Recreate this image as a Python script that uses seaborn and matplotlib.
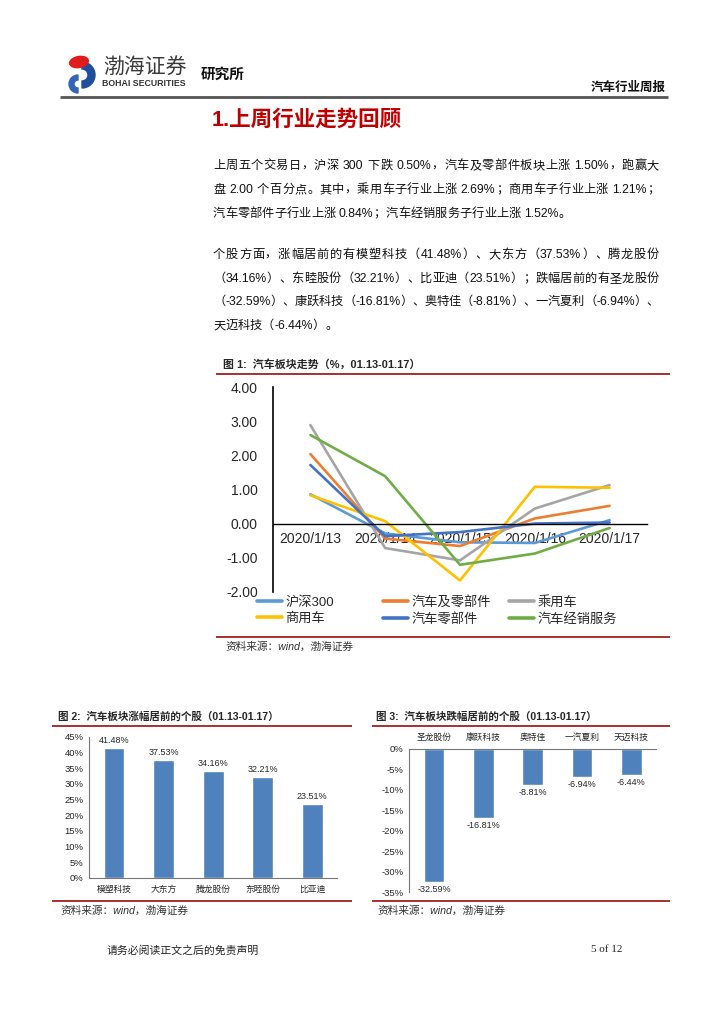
import re
import pandas as pd
import seaborn as sns
import matplotlib.pyplot as plt
from matplotlib.patches import Ellipse, Wedge

dates = ['2020/1/13', '2020/1/14', '2020/1/15', '2020/1/16', '2020/1/17']
series_names = ['沪深300', '汽车及零部件', '乘用车', '商用车', '汽车零部件', '汽车经销服务']
hs300 = [0.86, -0.29, -0.55, -0.57, 0.10]
auto_all = [2.04, -0.44, -0.66, 0.15, 0.52]
passenger = [2.89, -0.72, -1.08, 0.44, 1.13]
commercial = [0.83, 0.07, -1.67, 1.08, 1.05]
parts = [1.72, -0.37, -0.25, 0.00, 0.03]
dealer = [2.60, 1.39, -1.21, -0.88, -0.13]
series_colors = ['#5B9BD5', '#ED7D31', '#A5A5A5', '#FFC000', '#4472C4', '#70AD47']

gain_names = ['模塑科技', '大东方', '腾龙股份', '东睦股份', '比亚迪']
gain_vals = [41.48, 37.53, 34.16, 32.21, 23.51]
loss_names = ['圣龙股份', '康跃科技', '奥特佳', '一汽夏利', '天迈科技']
loss_vals = [-32.59, -16.81, -8.81, -6.94, -6.44]

sns.set_style('white')
plt.rcParams['font.family'] = ['Liberation Sans', 'Noto Sans CJK SC']

W, H = 724, 1024
RED = '#A8302E'
fig = plt.figure(figsize=(7.24, 10.24), dpi=100)

# page layer in pixel coordinates
page = fig.add_axes([0, 0, 1, 1], zorder=0)
page.set_xlim(0, W)
page.set_ylim(H, 0)
page.axis('off')


def ax_at(x0, y0, x1, y1):
    return fig.add_axes([x0 / W, 1 - y1 / H, (x1 - x0) / W, (y1 - y0) / H], zorder=2)


def hline(y, x0, x1, color, lw):
    page.plot([x0, x1], [y, y], color=color, lw=lw, solid_capstyle='butt')


# header / logo
page.add_patch(Wedge((82, 75), 13, -90, 90, width=7, color='#1F4E9E'))
page.add_patch(Wedge((78, 84), 9, 90, 270, width=5, color='#3566B5'))
page.add_patch(Ellipse((79, 62), 19, 11, angle=-10, color='#E21B1B'))
page.text(103, 67, '渤海证券', fontsize=15, color='#3A3A3A', va='center', ha='left')
page.text(102, 83, 'BOHAI SECURITIES', fontsize=6.3, fontweight='bold', color='#333333', va='center', ha='left')
page.text(201, 75, '研究所', fontsize=10.5, fontweight='bold', color='#111111', va='center', ha='left')
page.text(666, 88, '汽车行业周报', fontsize=9, fontweight='bold', color='#111111', va='center', ha='right')
hline(97, 60, 668, '#555555', 2)

page.text(212, 120, '1.上周行业走势回顾', fontsize=15.5, fontweight='bold', color='#C00000', va='center', ha='left')


def para_line(y, s, justify=True, x0=213, x1=659, fs=8.8):
    toks = re.findall(r'[0-9A-Za-z.%\-]+| |.', s)
    arts = [None if t == ' ' else page.text(0, y, t, fontsize=fs, va='center', ha='left', color='#111111')
            for t in toks]
    r = fig.canvas.get_renderer()
    widths = [fs * 0.28 / 0.72 if a is None else a.get_window_extent(r).width for a in arts]
    gap = (x1 - x0 - sum(widths)) / (len(toks) - 1) if justify else 0
    x = x0
    for a, w in zip(arts, widths):
        if a is not None:
            a.set_x(x)
        x += w + gap


para_line(166, '上周五个交易日，沪深 300 下跌 0.50%，汽车及零部件板块上涨 1.50%，跑赢大')
para_line(190, '盘 2.00 个百分点。其中，乘用车子行业上涨 2.69%；商用车子行业上涨 1.21%；')
para_line(214, '汽车零部件子行业上涨 0.84%；汽车经销服务子行业上涨 1.52%。', justify=False)
para_line(255, '个股方面，涨幅居前的有模塑科技（41.48%）、大东方（37.53%）、腾龙股份')
para_line(279, '（34.16%）、东睦股份（32.21%）、比亚迪（23.51%）；跌幅居前的有圣龙股份')
para_line(302, '（-32.59%）、康跃科技（-16.81%）、奥特佳（-8.81%）、一汽夏利（-6.94%）、')
para_line(326, '天迈科技（-6.44%）。', justify=False)

# ---- figure 1: line chart
page.text(223, 364, '图 1:  汽车板块走势（%，01.13-01.17）', fontsize=7.9, fontweight='bold', va='center', ha='left')
hline(374, 216, 670, RED, 1.4)
hline(637, 216, 670, RED, 1.4)
page.text(225, 647, '资料来源：wind，渤海证券', fontsize=7.7, style='italic', color='#333333', va='center', ha='left')

rows = []
for name, vals in zip(series_names, [hs300, auto_all, passenger, commercial, parts, dealer]):
    for d, v in zip(dates, vals):
        rows.append({'date': d, 'value': v, 'series': name})
df = pd.DataFrame(rows)

ax1 = ax_at(273, 387.3, 647, 591.7)
sns.lineplot(data=df, x='date', y='value', hue='series', hue_order=series_names,
             palette=series_colors, lw=1.9, legend=False, ax=ax1)
ax1.set_xlim(-0.5, 4.5)
ax1.set_ylim(-2, 4)
ax1.set_yticks([-2, -1, 0, 1, 2, 3, 4])
ax1.set_yticklabels([f'{v:.2f}' for v in [-2, -1, 0, 1, 2, 3, 4]])
ax1.set_xlabel('')
ax1.set_ylabel('')
ax1.spines['top'].set_visible(False)
ax1.spines['right'].set_visible(False)
ax1.spines['bottom'].set_position(('data', 0))
ax1.spines['bottom'].set_color('black')
ax1.spines['bottom'].set_linewidth(1)
ax1.spines['left'].set_color('black')
ax1.spines['left'].set_linewidth(1.2)
ax1.tick_params(axis='x', length=0, pad=6, labelsize=10)
ax1.tick_params(axis='y', length=0, pad=11, labelsize=10)
ax1.patch.set_alpha(0)

lines = ax1.get_lines()
cols = [(256.7, [0, 3]), (383.3, [1, 4]), (509.3, [2, 5])]
legs = []
for x, idx in cols:
    leg = ax1.legend([lines[i] for i in idx], [series_names[i] for i in idx], loc='upper left',
                     bbox_to_anchor=(x, 596), bbox_transform=page.transData, frameon=False,
                     fontsize=9.5, handlelength=1.9, handletextpad=0.25, borderpad=0,
                     borderaxespad=0, labelspacing=0.3)
    for h in leg.legend_handles:
        h.set_linewidth(2.6)
    legs.append(leg)
for leg in legs[:-1]:
    ax1.add_artist(leg)

# ---- figure 2: gains
page.text(58, 717, '图 2:  汽车板块涨幅居前的个股（01.13-01.17）', fontsize=7.6, fontweight='bold', va='center', ha='left')
hline(726, 52, 352, RED, 1.4)
hline(901, 52, 352, RED, 1.4)
page.text(60, 911, '资料来源：wind，渤海证券', fontsize=7.7, style='italic', color='#333333', va='center', ha='left')

ax2 = ax_at(89.3, 736.7, 337, 877.7)
sns.barplot(x=gain_names, y=gain_vals, color='#4F81BD', saturation=1, width=0.42, ax=ax2)
ax2.set_ylim(0, 45)
ax2.set_yticks(range(0, 46, 5))
ax2.set_yticklabels([f'{v}%' for v in range(0, 46, 5)])
ax2.bar_label(ax2.containers[0], labels=[f'{v:.2f}%' for v in gain_vals], padding=2, fontsize=6.5)
for s in ['top', 'right']:
    ax2.spines[s].set_visible(False)
for s in ['left', 'bottom']:
    ax2.spines[s].set_color('#777777')
    ax2.spines[s].set_linewidth(0.8)
ax2.tick_params(axis='y', length=0, pad=4, labelsize=6.8)
ax2.tick_params(axis='x', length=0, pad=5, labelsize=6.3)
ax2.patch.set_alpha(0)

# ---- figure 3: losses
page.text(376, 717, '图 3:  汽车板块跌幅居前的个股（01.13-01.17）', fontsize=7.6, fontweight='bold', va='center', ha='left')
hline(726, 372, 670, RED, 1.4)
hline(901, 372, 670, RED, 1.4)
page.text(377, 911, '资料来源：wind，渤海证券', fontsize=7.7, style='italic', color='#333333', va='center', ha='left')

ax3 = ax_at(409.3, 749, 656, 892.3)
sns.barplot(x=loss_names, y=loss_vals, color='#4F81BD', saturation=1, width=0.42, ax=ax3)
ax3.set_ylim(-35, 0)
ax3.set_yticks(range(-35, 1, 5))
ax3.set_yticklabels([f'{v}%' for v in range(-35, 1, 5)])
ax3.bar_label(ax3.containers[0], labels=[f'{v:.2f}%' for v in loss_vals], padding=2, fontsize=6.5)
ax3.xaxis.tick_top()
for s in ['bottom', 'right']:
    ax3.spines[s].set_visible(False)
for s in ['left', 'top']:
    ax3.spines[s].set_color('#777777')
    ax3.spines[s].set_linewidth(0.8)
ax3.tick_params(axis='y', length=0, pad=4, labelsize=6.8)
ax3.tick_params(axis='x', length=0, pad=5, labelsize=6.3)
ax3.patch.set_alpha(0)

# footer
page.text(107, 950, '请务必阅读正文之后的免责声明', fontsize=7.8, color='#222222', va='center', ha='left')
page.text(622, 950, '5 of 12', fontsize=8, family='Liberation Serif', color='#222222', va='center', ha='right')

fig.savefig('out.png', dpi=100)
